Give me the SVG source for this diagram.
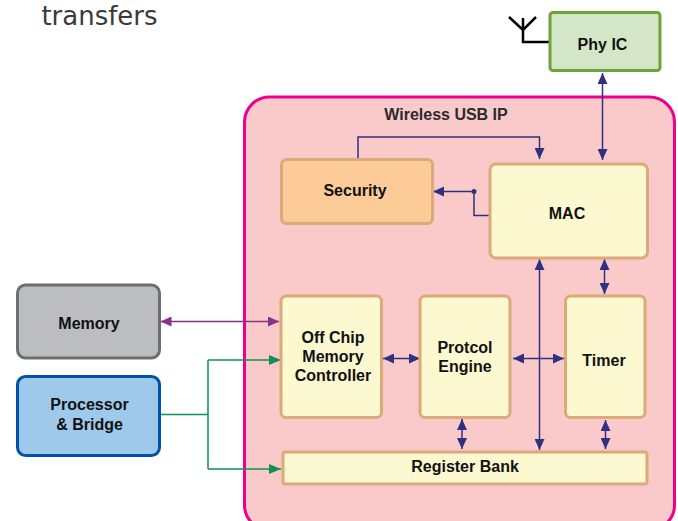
<svg xmlns="http://www.w3.org/2000/svg" width="678" height="521" viewBox="0 0 678 521">
<style>
text{font-family:"Liberation Sans",Arial,sans-serif;font-weight:bold;font-size:16px;fill:#111;text-anchor:middle}
.box{stroke-width:3}
.y{fill:#fcf8cf;stroke:#dca97a}
.n{fill:none;stroke:#2e3180;stroke-width:1.5}
.p{fill:none;stroke:#8a2f8a;stroke-width:1.5}
.g{fill:none;stroke:#0f9150;stroke-width:1.5}
</style>
<defs>
<marker id="an" markerUnits="userSpaceOnUse" markerWidth="11" markerHeight="10" refX="11" refY="5" orient="auto-start-reverse"><path d="M0 0L11 5L0 10Z" fill="#2e3180"/></marker>
<marker id="ap" markerUnits="userSpaceOnUse" markerWidth="11" markerHeight="10" refX="11" refY="5" orient="auto-start-reverse"><path d="M0 0L11 5L0 10Z" fill="#8a2f8a"/></marker>
<marker id="ag" markerUnits="userSpaceOnUse" markerWidth="12" markerHeight="10" refX="12" refY="5" orient="auto-start-reverse"><path d="M0 0L12 5L0 10Z" fill="#0f9150"/></marker>
</defs>
<text x="99.500" y="25" style="font-weight:normal;font-size:26px;fill:#3a3a3a;font-family:'DejaVu Sans',sans-serif">transfers</text>
<g id="wireless-usb-ip"><rect x="244.500" y="97" width="430" height="433" rx="25" fill="#facacb" stroke="#ec008c" stroke-width="3"/><text x="446" y="119.500" style="fill:#2b2b2b">Wireless USB IP</text></g>
<g id="connectors">
<path class="n" d="M358 158V137H539.500V159" marker-end="url(#an)"/>
<path class="n" d="M490 215.500H474V191.500H433" marker-end="url(#an)"/>
<circle cx="474" cy="191.500" r="2.500" fill="#2e3180"/>
<path class="n" d="M602.500 73V160" marker-start="url(#an)" marker-end="url(#an)"/>
<path class="n" d="M539.500 259V450" marker-start="url(#an)" marker-end="url(#an)"/>
<path class="n" d="M604.500 259V294" marker-start="url(#an)" marker-end="url(#an)"/>
<path class="n" d="M383 358.500H420" marker-start="url(#an)" marker-end="url(#an)"/>
<path class="n" d="M513 358.500H564" marker-start="url(#an)" marker-end="url(#an)"/>
<path class="n" d="M462 419V449" marker-start="url(#an)" marker-end="url(#an)"/>
<path class="n" d="M605.500 420V449" marker-start="url(#an)" marker-end="url(#an)"/>
<path class="p" d="M160.500 321.500H279" marker-start="url(#ap)" marker-end="url(#ap)"/>
<path class="g" d="M157 414.500H208M208 360V469M208 360H281" marker-end="url(#ag)"/>
<path class="g" d="M208 469H281" marker-end="url(#ag)"/>
<path d="M509 17L523 30L536 17M523 18V42H549" fill="none" stroke="#000" stroke-width="2.500"/>
</g>
<g id="phy-ic"><rect class="box" x="550" y="12.500" width="110" height="58" rx="3" fill="#d3e7c8" stroke="#6ea23c"/><text x="602.500" y="50">Phy IC</text></g>
<g id="security"><rect class="box" x="281.500" y="159.500" width="151" height="64" rx="5" fill="#fdcb98" stroke="#dca97a"/><text x="355" y="196">Security</text></g>
<g id="mac"><rect class="box y" x="490" y="164" width="157.500" height="94" rx="6"/><text x="567" y="219">MAC</text></g>
<g id="memory"><rect class="box" x="17.500" y="285" width="142" height="73" rx="8" fill="#bcbdc0" stroke="#6d6e71"/><text x="89" y="329">Memory</text></g>
<g id="processor"><rect class="box" x="17.500" y="376.500" width="142" height="79" rx="8" fill="#9fc9ea" stroke="#0054a6"/><text x="89.500" y="410">Processor</text><text x="89.500" y="430">&amp; Bridge</text></g>
<g id="off-chip"><rect class="box y" x="281" y="296" width="100.500" height="121.500" rx="5"/><text x="333" y="343">Off Chip</text><text x="333" y="362">Memory</text><text x="333" y="381">Controller</text></g>
<g id="protocol"><rect class="box y" x="420" y="296" width="90" height="121.500" rx="5"/><text x="465" y="353">Protcol</text><text x="465" y="372">Engine</text></g>
<g id="timer"><rect class="box y" x="565.500" y="296" width="79.500" height="121.500" rx="5"/><text x="604" y="366">Timer</text></g>
<g id="register-bank"><rect class="box y" x="283" y="452" width="364" height="32" rx="2"/><text x="465" y="472">Register Bank</text></g>
</svg>
